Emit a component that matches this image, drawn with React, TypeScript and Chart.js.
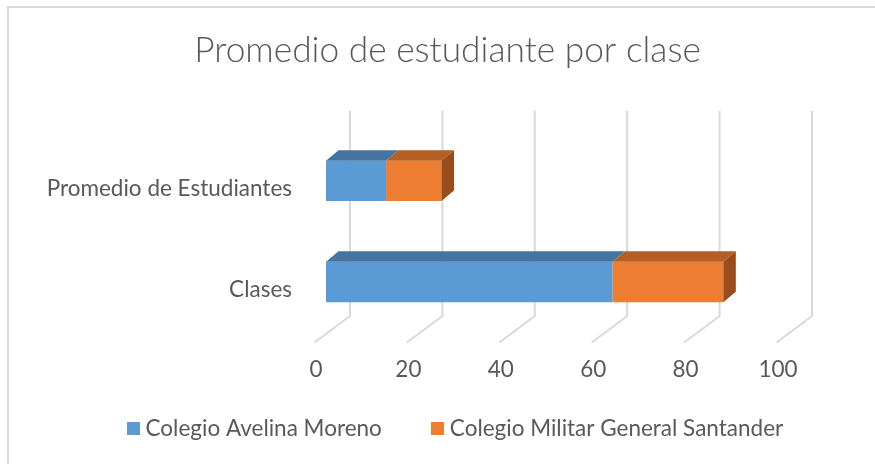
import React, { useEffect, useRef } from "react";
import { Chart, registerables } from "chart.js";

Chart.register(...registerables);

// ---- data ----
const categories = ["Clases", "Promedio de Estudiantes"];
const seriesNames = ["Colegio Avelina Moreno", "Colegio Militar General Santander"];
const avelinaValues = [62, 13];
const militarValues = [24, 12];
const xTickValues = [0, 20, 40, 60, 80, 100];
const chartTitle = "Promedio de estudiante por clase";

// ---- style ----
const FONT = "Lato, 'Open Sans', sans-serif";
const TEXT = "#595959";
const GRID = "#d9d9d9";
const FRONT = ["#5b9bd5", "#ed7d31"];
const TOP = ["#44749f", "#b65f24"];
const SIDE = ["#3b6590", "#9a4d1c"];
const DEPTH_X = 12.5;
const DEPTH_Y = 10.5;
const LEGEND_SHIFT = 10;

function makeSwatch(color: string) {
  const c = document.createElement("canvas");
  c.width = 13;
  c.height = 13;
  const g = c.getContext("2d")!;
  g.fillStyle = color;
  g.fillRect(0, 0, 13, 13);
  return c;
}

const threeD = {
  id: "threeD",
  afterLayout(chart: any) {
    if (chart.legend) {
      chart.legend.left += LEGEND_SHIFT;
      chart.legend.right += LEGEND_SHIFT;
    }
  },
  beforeDraw(chart: any) {
    const ctx = chart.ctx;
    ctx.save();
    ctx.fillStyle = "#ffffff";
    ctx.fillRect(0, 0, chart.width, chart.height);
    ctx.fillStyle = GRID;
    ctx.fillRect(7, 6, chart.width - 7, 2);
    ctx.fillRect(7, 6, 2, chart.height - 6);
    ctx.restore();
  },
  beforeDatasetsDraw(chart: any) {
    const { ctx, chartArea, scales } = chart;
    const xs = scales.x;
    ctx.save();
    ctx.strokeStyle = GRID;
    ctx.lineWidth = 2;
    xs.ticks.forEach((t: any) => {
      const px = xs.getPixelForValue(t.value);
      ctx.beginPath();
      ctx.moveTo(px + 24, chartArea.top - 19.5);
      ctx.lineTo(px + 24, chartArea.bottom - 16.5);
      ctx.lineTo(px - 11.5, chartArea.bottom + 10);
      ctx.stroke();
    });
    ctx.restore();
  },
  afterDatasetsDraw(chart: any) {
    const ctx = chart.ctx;
    const metas = chart.getSortedVisibleDatasetMetas();
    ctx.save();
    metas.forEach((meta: any, di: number) => {
      meta.data.forEach((el: any) => {
        const { x, y, base, height } = el.getProps(["x", "y", "base", "height"], true);
        const top = y - height / 2;
        const bottom = y + height / 2;
        ctx.fillStyle = TOP[meta.index];
        ctx.beginPath();
        ctx.moveTo(base, top);
        ctx.lineTo(x, top);
        ctx.lineTo(x + DEPTH_X, top - DEPTH_Y);
        ctx.lineTo(base + DEPTH_X, top - DEPTH_Y);
        ctx.closePath();
        ctx.fill();
        if (di === metas.length - 1) {
          ctx.fillStyle = SIDE[meta.index];
          ctx.beginPath();
          ctx.moveTo(x, top);
          ctx.lineTo(x + DEPTH_X, top - DEPTH_Y);
          ctx.lineTo(x + DEPTH_X, bottom - DEPTH_Y);
          ctx.lineTo(x, bottom);
          ctx.closePath();
          ctx.fill();
        }
      });
    });
    ctx.restore();
  },
};

export default function App() {
  const ref = useRef<HTMLCanvasElement | null>(null);

  useEffect(() => {
    if (!ref.current) return;
    const swatches = FRONT.map(makeSwatch);
    const chart = new Chart(ref.current, {
      type: "bar",
      data: {
        labels: categories,
        datasets: [
          {
            label: seriesNames[0],
            data: avelinaValues,
            backgroundColor: FRONT[0],
            borderWidth: 0,
            barPercentage: 0.4,
            categoryPercentage: 1,
          },
          {
            label: seriesNames[1],
            data: militarValues,
            backgroundColor: FRONT[1],
            borderWidth: 0,
            barPercentage: 0.4,
            categoryPercentage: 1,
          },
        ],
      },
      options: {
        indexAxis: "y",
        animation: false,
        responsive: false,
        devicePixelRatio: 1,
        layout: { padding: { left: 20, right: 0, top: 0, bottom: 14 } },
        plugins: {
          title: {
            display: true,
            text: chartTitle,
            color: TEXT,
            font: { family: FONT, size: 35.3, weight: "300" as any },
            padding: { top: 29.1, bottom: 58.9 },
          },
          legend: {
            position: "bottom",
            labels: {
              color: TEXT,
              font: { family: FONT, size: 22.5 },
              usePointStyle: true,
              boxWidth: 2.5,
              boxHeight: 13,
              padding: 54.25,
              generateLabels(c: any) {
                const items = (Chart as any).defaults.plugins.legend.labels.generateLabels(c);
                items.forEach((it: any) => {
                  it.pointStyle = swatches[it.datasetIndex];
                  it.lineWidth = 0;
                });
                return items;
              },
            },
          },
          tooltip: { enabled: false },
        },
        scales: {
          x: {
            type: "linear",
            stacked: true,
            min: 0,
            max: 100,
            afterBuildTicks(s: any) {
              s.ticks = xTickValues.map((v) => ({ value: v }));
            },
            ticks: {
              color: TEXT,
              font: { family: FONT, size: 22.5 },
              mirror: true,
              padding: -51,
              labelOffset: -10,
              maxRotation: 0,
            },
            grid: { display: false, drawTicks: false },
            border: { display: false },
            afterFit(s: any) {
              s.height = 30.75;
            },
          },
          y: {
            type: "category",
            stacked: true,
            reverse: true,
            ticks: {
              color: TEXT,
              font: { family: FONT, size: 22.5 },
              padding: 34,
              labelOffset: 8,
            },
            grid: { display: false, drawTicks: false },
            border: { display: false },
            afterFit(s: any) {
              s.width = 306;
            },
          },
          yRight: {
            type: "linear",
            axis: "y",
            position: "right",
            display: true,
            ticks: { display: false },
            grid: { display: false, drawTicks: false },
            border: { display: false },
            afterFit(s: any) {
              s.width = 87;
            },
          },
        },
      },
      plugins: [threeD],
    } as any);
    return () => chart.destroy();
  }, []);

  return (
    <div style={{ position: "fixed", left: 0, top: 0, width: 875, height: 464, background: "#fff" }}>
      <canvas ref={ref} width={875} height={464} style={{ display: "block" }} />
    </div>
  );
}
